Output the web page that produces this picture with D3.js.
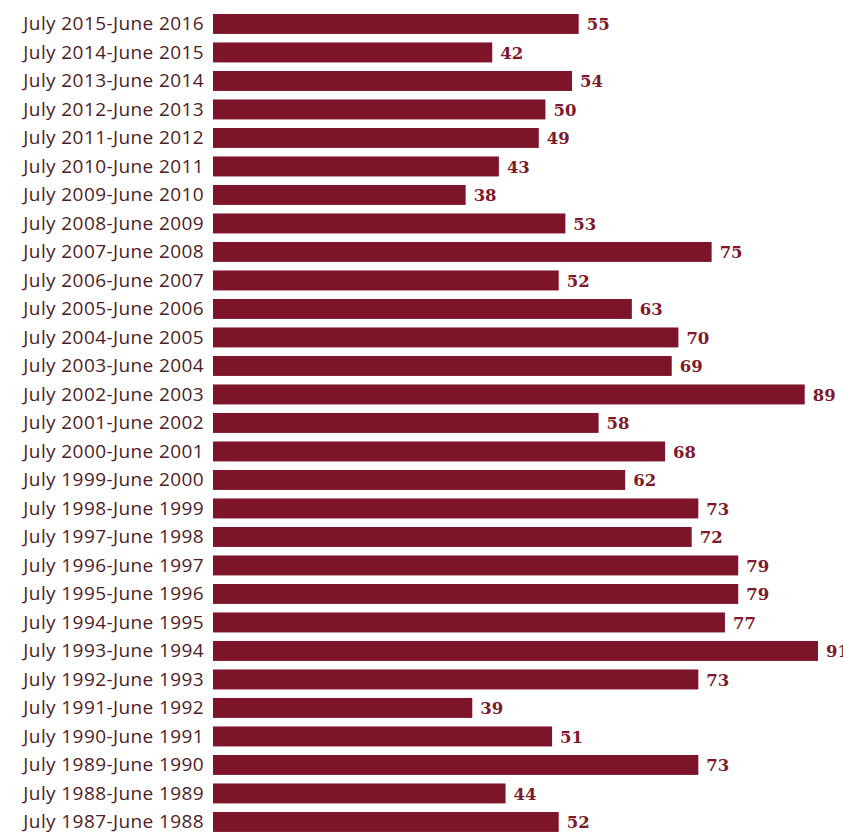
<!DOCTYPE html>
<html>
<head>
<meta charset="utf-8">
<script src="https://cdn.jsdelivr.net/npm/d3@7"></script>
<style>
  body { margin: 0; background: #fff; }
  svg { display: block; }
</style>
</head>
<body>
<script>
const periods = [
  "July 2015-June 2016", "July 2014-June 2015", "July 2013-June 2014", "July 2012-June 2013",
  "July 2011-June 2012", "July 2010-June 2011", "July 2009-June 2010", "July 2008-June 2009",
  "July 2007-June 2008", "July 2006-June 2007", "July 2005-June 2006", "July 2004-June 2005",
  "July 2003-June 2004", "July 2002-June 2003", "July 2001-June 2002", "July 2000-June 2001",
  "July 1999-June 2000", "July 1998-June 1999", "July 1997-June 1998", "July 1996-June 1997",
  "July 1995-June 1996", "July 1994-June 1995", "July 1993-June 1994", "July 1992-June 1993",
  "July 1991-June 1992", "July 1990-June 1991", "July 1989-June 1990", "July 1988-June 1989",
  "July 1987-June 1988"
];
const counts = [55, 42, 54, 50, 49, 43, 38, 53, 75, 52, 63, 70, 69, 89, 58, 68, 62, 73, 72, 79, 79, 77, 91, 73, 39, 51, 73, 44, 52];

const w = 843, h = 833;
const svg = d3.select("body").append("svg")
    .attr("width", w)
    .attr("height", h);

const x = d3.scaleLinear()
    .domain([0, 91])
    .range([213, 818]);

const y = d3.scaleBand()
    .domain(periods)
    .range([9.7, 9.7 + 29 * 28.5])
    .paddingInner(0.3)
    .paddingOuter(0.15);

const data = periods.map((p, i) => ({ p: p, v: counts[i] }));

svg.append("g").selectAll("rect")
    .data(data)
    .join("rect")
    .attr("x", x(0))
    .attr("y", d => y(d.p))
    .attr("width", d => x(d.v) - x(0))
    .attr("height", y.bandwidth())
    .attr("fill", "#7d1429");

// period labels
svg.append("g").selectAll("text")
    .data(data)
    .join("text")
    .attr("x", 204)
    .attr("y", d => y(d.p) + y.bandwidth() / 2)
    .attr("dy", "0.33em")
    .attr("text-anchor", "end")
    .attr("font-family", "Open Sans, sans-serif")
    .attr("font-size", 19)
    .attr("letter-spacing", 0.4)
    .attr("fill", "#4d1d29")
    .text(d => d.p);

// value labels
svg.append("g").selectAll("text")
    .data(data)
    .join("text")
    .attr("x", d => x(d.v) + 8)
    .attr("y", d => y(d.p) + y.bandwidth() / 2)
    .attr("dy", "0.38em")
    .attr("font-family", "DejaVu Serif, serif")
    .attr("font-weight", "bold")
    .attr("font-size", 16.5)
    .attr("fill", "#7d1a2e")
    .text(d => d.v);
</script>
</body>
</html>
